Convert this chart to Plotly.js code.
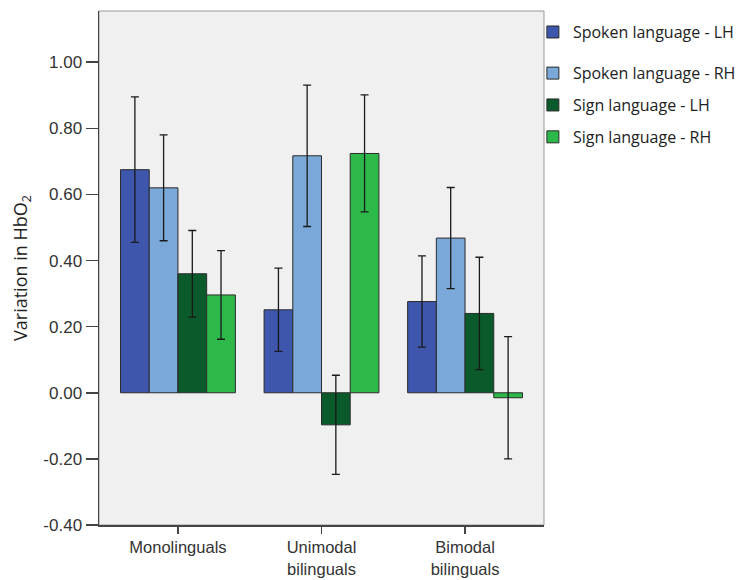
<!DOCTYPE html>
<html>
<head>
<meta charset="utf-8">
<script src="https://cdn.plot.ly/plotly-3.0.1.min.js"></script>
<style>html,body{margin:0;padding:0;background:#fff;}#chart{width:743px;height:580px;}</style>
</head>
<body>
<div id="chart"></div>
<script>
var categories = ['Monolinguals', 'Unimodal<br>bilinguals', 'Bimodal<br>bilinguals'];
var seriesNames = ['Spoken language - LH', 'Spoken language - RH', 'Sign language - LH', 'Sign language - RH'];
var spokenLH = [0.675, 0.251, 0.276];
var spokenLHErr = [0.220, 0.126, 0.138];
var spokenRH = [0.620, 0.717, 0.468];
var spokenRHErr = [0.160, 0.214, 0.153];
var signLH = [0.360, -0.097, 0.240];
var signLHErr = [0.131, 0.150, 0.170];
var signRH = [0.296, 0.724, -0.015];
var signRHErr = [0.134, 0.177, 0.185];
var yTickVals = [-0.4, -0.2, 0, 0.2, 0.4, 0.6, 0.8, 1.0];
var yTickText = ['-0.40', '-0.20', '0.00', '0.20', '0.40', '0.60', '0.80', '1.00'];

var colors = ['#3E56AC', '#7AA8D8', '#0B5A2B', '#2DB84A'];
var values = [spokenLH, spokenRH, signLH, signRH];
var errs = [spokenLHErr, spokenRHErr, signLHErr, signRHErr];
var legendIds = ['legend', 'legend2', 'legend3', 'legend4'];

var traces = values.map(function (v, i) {
  return {
    type: 'bar',
    name: seriesNames[i],
    x: categories,
    y: v,
    legend: legendIds[i],
    marker: {color: colors[i], line: {color: '#2b2b2b', width: 1}},
    error_y: {type: 'data', array: errs[i], visible: true, color: '#1a1a1a', thickness: 1.3, width: 4}
  };
});

var legendFont = {family: 'Open Sans, sans-serif', size: 16, color: '#222'};
function leg(y) {
  return {x: 0.975, xanchor: 'left', y: y, yanchor: 'middle', bgcolor: 'rgba(0,0,0,0)', font: legendFont, borderwidth: 0};
}

var layout = {
  width: 743, height: 580,
  margin: {l: 99, r: 199, t: 11, b: 55, autoexpand: false},
  paper_bgcolor: '#ffffff',
  plot_bgcolor: '#F0F0F0',
  barmode: 'group',
  bargap: 0.2,
  bargroupgap: 0,
  showlegend: true,
  legend: leg(0.959),
  legend2: leg(0.879),
  legend3: leg(0.817),
  legend4: leg(0.755),
  xaxis: {
    type: 'category',
    range: [-0.55, 2.55],
    showline: true, linecolor: '#444', linewidth: 1.5,
    ticks: 'outside', ticklen: 7, tickwidth: 1.5, tickcolor: '#444',
    showgrid: false, zeroline: false,
    tickfont: {family: 'Liberation Sans, Arial, sans-serif', size: 16.5, color: '#333'},
    fixedrange: true
  },
  yaxis: {
    range: [-0.40, 1.155],
    tickvals: yTickVals, ticktext: yTickText,
    showline: true, linecolor: '#444', linewidth: 1.5,
    ticks: 'outside', ticklen: 12, tickwidth: 1.5, tickcolor: '#444',
    showgrid: false, zeroline: false,
    tickfont: {family: 'Liberation Sans, Arial, sans-serif', size: 17, color: '#333'},
    title: {text: 'Variation in HbO<sub>2</sub>', font: {family: 'Open Sans, sans-serif', size: 18, color: '#222'}, standoff: 11},
    fixedrange: true
  },
  shapes: [{
    type: 'rect', xref: 'paper', yref: 'paper', x0: 0, x1: 1, y0: 0, y1: 1,
    line: {color: '#999', width: 1}, fillcolor: 'rgba(0,0,0,0)', layer: 'below'
  }]
};

Plotly.newPlot('chart', traces, layout, {displayModeBar: false, staticPlot: true});
</script>
</body>
</html>
